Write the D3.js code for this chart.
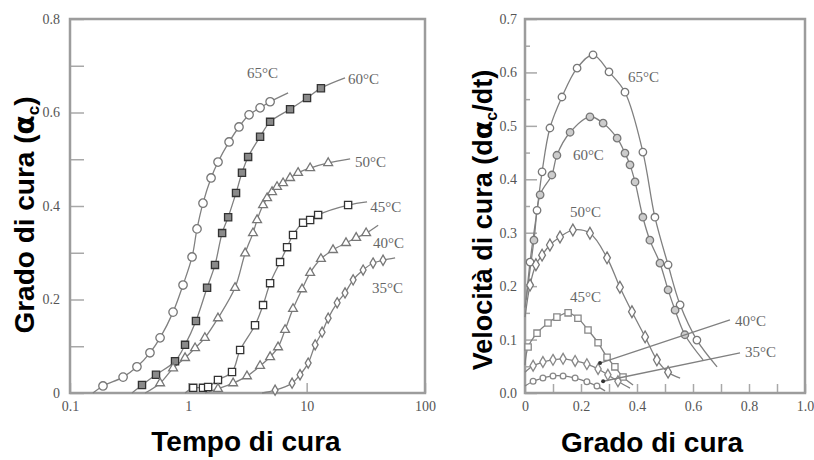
<!DOCTYPE html>
<html>
<head>
<meta charset="utf-8">
<script src="https://cdn.jsdelivr.net/npm/d3@7"></script>
<style>
  body { margin: 0; background: #fff; }
  .tick text { font-family: "Liberation Serif", "DejaVu Serif", serif; font-size: 14px; fill: #555; }
  .tick line { stroke: #a8a8a8; stroke-width: 1.5px; }
  .lbl { font-family: "Liberation Serif", "DejaVu Serif", serif; font-size: 15px; fill: #666; }
  .title { font-family: "Liberation Sans", Arial, sans-serif; font-weight: bold; font-size: 28px; fill: #000; }
</style>
</head>
<body>
<div id="chart"></div>
<script>
// left panel: cure degree vs cure time (first and last point of each list are line ends, no marker)
const tempsLeft = ["65°C", "60°C", "50°C", "45°C", "40°C", "35°C"];
const t65 = [0.156, 0.190, 0.281, 0.368, 0.474, 0.577, 0.743, 0.902, 1.075, 1.184, 1.33, 1.556, 1.782, 2.21, 2.68, 3.26, 4.04, 4.91, 6.97];
const a65 = [0, 0.015, 0.034, 0.056, 0.086, 0.118, 0.173, 0.231, 0.291, 0.351, 0.406, 0.460, 0.494, 0.537, 0.569, 0.595, 0.610, 0.623, 0.642];
const t60 = [0.334, 0.406, 0.533, 0.772, 0.938, 1.16, 1.44, 1.68, 1.93, 2.17, 2.53, 2.84, 3.20, 4.04, 4.91, 7.24, 10.07, 13.2, 21.1];
const a60 = [0, 0.017, 0.039, 0.068, 0.103, 0.154, 0.225, 0.274, 0.342, 0.376, 0.428, 0.471, 0.505, 0.548, 0.580, 0.607, 0.631, 0.652, 0.674];
const t50 = [0.431, 0.577, 0.743, 0.938, 1.14, 1.38, 1.78, 2.48, 3.02, 3.52, 3.81, 4.28, 4.63, 5.10, 5.62, 6.32, 7.24, 8.46, 10.7, 15.2, 23.3];
const a50 = [0, 0.021, 0.053, 0.075, 0.096, 0.118, 0.160, 0.225, 0.299, 0.342, 0.370, 0.402, 0.417, 0.430, 0.441, 0.449, 0.460, 0.471, 0.481, 0.492, 0.501];
const t45 = [0.938, 1.10, 1.33, 1.47, 1.78, 2.34, 2.74, 3.66, 4.28, 4.91, 5.96, 6.83, 7.67, 9.33, 10.7, 12.5, 22.4, 32.4];
const a45 = [0, 0.011, 0.011, 0.013, 0.028, 0.045, 0.092, 0.145, 0.188, 0.235, 0.280, 0.312, 0.338, 0.364, 0.370, 0.381, 0.402, 0.409];
const t40 = [1.38, 1.78, 2.39, 3.13, 4.04, 4.91, 5.73, 6.57, 7.67, 9.14, 10.7, 13.2, 16.7, 21.5, 26.2, 31.8, 40.2];
const a40 = [0, 0.009, 0.021, 0.036, 0.058, 0.077, 0.098, 0.135, 0.180, 0.222, 0.257, 0.287, 0.306, 0.321, 0.332, 0.342, 0.359];
const t35 = [4.20, 5.41, 7.53, 8.79, 10.3, 11.8, 13.5, 15.2, 18.1, 21.1, 24.7, 30.0, 36.4, 44.2, 55.9];
const a35 = [0, 0.006, 0.021, 0.039, 0.064, 0.103, 0.130, 0.160, 0.193, 0.214, 0.242, 0.263, 0.278, 0.284, 0.289];
const labelTLeft = [3.13, 22.4, 25.6, 34.4, 36.4, 35.7];
const labelALeft = [0.684, 0.672, 0.495, 0.398, 0.321, 0.225];
const xTicksLeft = [0.1, 1, 10, 100];
const yTicksLeft = [0, 0.2, 0.4, 0.6, 0.8];

// right panel: cure rate vs cure degree
const tempsRight = ["65°C", "60°C", "50°C", "45°C", "40°C", "35°C"];
const g65 = [0.004, 0.018, 0.043, 0.061, 0.089, 0.132, 0.186, 0.243, 0.300, 0.357, 0.421, 0.464, 0.511, 0.554, 0.614, 0.686];
const r65 = [0.174, 0.245, 0.342, 0.414, 0.496, 0.554, 0.608, 0.633, 0.601, 0.563, 0.451, 0.329, 0.240, 0.165, 0.099, 0.049];
const g60 = [0, 0.032, 0.054, 0.096, 0.114, 0.161, 0.232, 0.279, 0.329, 0.357, 0.375, 0.393, 0.421, 0.446, 0.482, 0.511, 0.536, 0.571, 0.636];
const r60 = [0.16, 0.286, 0.371, 0.408, 0.445, 0.488, 0.517, 0.505, 0.477, 0.449, 0.427, 0.395, 0.329, 0.286, 0.243, 0.193, 0.155, 0.109, 0.062];
const g50 = [0, 0.018, 0.039, 0.061, 0.089, 0.125, 0.171, 0.232, 0.293, 0.339, 0.382, 0.429, 0.471, 0.511, 0.554];
const r50 = [0.142, 0.202, 0.240, 0.258, 0.277, 0.292, 0.305, 0.299, 0.253, 0.198, 0.152, 0.105, 0.062, 0.039, 0.028];
const g45 = [0, 0.011, 0.043, 0.082, 0.114, 0.154, 0.189, 0.225, 0.261, 0.293, 0.321, 0.350, 0.386];
const r45 = [0.052, 0.086, 0.112, 0.131, 0.142, 0.150, 0.140, 0.118, 0.094, 0.067, 0.049, 0.030, 0.015];
const g40 = [0, 0.029, 0.064, 0.100, 0.136, 0.179, 0.221, 0.261, 0.296, 0.332, 0.375];
const r40 = [0.039, 0.051, 0.058, 0.062, 0.064, 0.060, 0.054, 0.045, 0.034, 0.022, 0.009];
const g35 = [0, 0.029, 0.064, 0.100, 0.136, 0.179, 0.221, 0.257, 0.286];
const r35 = [0.013, 0.022, 0.028, 0.032, 0.032, 0.028, 0.021, 0.013, 0.004];
const labelGRight = [0.368, 0.171, 0.161, 0.161, 0.75, 0.786];
const labelRRight = [0.591, 0.445, 0.339, 0.180, 0.135, 0.077];
// leader lines for 40°C and 35°C: [g1, r1, g2, r2]
const leader40 = [0.732, 0.137, 0.268, 0.056];
const leader35 = [0.768, 0.075, 0.279, 0.022];
const xTicksRight = [0, 0.2, 0.4, 0.6, 0.8, 1.0];
const yTicksRight = [0, 0.1, 0.2, 0.3, 0.4, 0.5, 0.6, 0.7];

const W = 814, H = 460;
const svg = d3.select("#chart").append("svg").attr("width", W).attr("height", H);

function zip(xs, ys) { return xs.map((v, i) => [v, ys[i]]); }

const seriesLeft = [
  {pts: zip(t65, a65), sym: d3.symbolCircle, size: 56, fill: "#fff", stroke: "#777"},
  {pts: zip(t60, a60), sym: d3.symbolSquare, size: 52, fill: "#8a8a8a", stroke: "#333"},
  {pts: zip(t50, a50), sym: d3.symbolTriangle, size: 34, fill: "#fff", stroke: "#777"},
  {pts: zip(t45, a45), sym: d3.symbolSquare, size: 52, fill: "#fff", stroke: "#333"},
  {pts: zip(t40, a40), sym: d3.symbolTriangle, size: 34, fill: "#fff", stroke: "#777"},
  {pts: zip(t35, a35), sym: d3.symbolDiamond, size: 30, fill: "#fff", stroke: "#777"}
];
const seriesRight = [
  {pts: zip(g65, r65), sym: d3.symbolCircle, size: 44, fill: "#fff", stroke: "#777"},
  {pts: zip(g60, r60), sym: d3.symbolCircle, size: 44, fill: "#ccc", stroke: "#777"},
  {pts: zip(g50, r50), sym: d3.symbolDiamond, size: 40, fill: "#fff", stroke: "#777"},
  {pts: zip(g45, r45), sym: d3.symbolSquare, size: 40, fill: "#fff", stroke: "#888"},
  {pts: zip(g40, r40), sym: d3.symbolDiamond, size: 34, fill: "#fff", stroke: "#888"},
  {pts: zip(g35, r35), sym: d3.symbolCircle, size: 26, fill: "#fff", stroke: "#888"}
];

function drawSeries(g, list, x, y) {
  const line = d3.line().x(d => x(d[0])).y(d => y(d[1])).curve(d3.curveCatmullRom);
  list.forEach(s => {
    g.append("path").attr("d", line(s.pts)).attr("fill", "none")
      .attr("stroke", "#808080").attr("stroke-width", 1.3);
  });
  list.forEach(s => {
    g.selectAll(null).data(s.pts.slice(1, -1)).enter().append("path")
      .attr("transform", d => `translate(${x(d[0])},${y(d[1])})`)
      .attr("d", d3.symbol().type(s.sym).size(s.size))
      .attr("fill", s.fill).attr("stroke", s.stroke).attr("stroke-width", 1.3);
  });
}

// ---------- left panel ----------
{
  const x = d3.scaleLog().domain([0.1, 100]).range([70, 425]);
  const y = d3.scaleLinear().domain([0, 0.8]).range([393, 19]);
  const g = svg.append("g");

  g.append("g").attr("transform", "translate(70,0)")
    .call(d3.axisLeft(y).tickValues([0.1, 0.3, 0.5, 0.7]).tickSize(-14).tickFormat(""))
    .call(a => a.select(".domain").remove());
  g.append("g").attr("transform", "translate(70,0)")
    .call(d3.axisLeft(y).tickValues(yTicksLeft).tickSize(-14).tickPadding(10).tickFormat(d3.format("")))
    .call(a => a.select(".domain").remove());
  g.append("g").attr("transform", "translate(0,393)")
    .call(d3.axisBottom(x).tickValues(xTicksLeft).tickSize(-10).tickPadding(8).tickFormat(d3.format("")))
    .call(a => a.select(".domain").remove());

  g.append("rect").attr("x", 70).attr("y", 19).attr("width", 355).attr("height", 374)
    .attr("fill", "none").attr("stroke", "#9c9c9c").attr("stroke-width", 2.5);

  drawSeries(g, seriesLeft, x, y);

  g.selectAll(".lbl").data(tempsLeft).enter().append("text").attr("class", "lbl")
    .attr("x", (d, i) => x(labelTLeft[i])).attr("y", (d, i) => y(labelALeft[i]))
    .attr("dy", "0.35em").text(d => d);

  g.append("text").attr("class", "title").attr("x", 246).attr("y", 451)
    .attr("text-anchor", "middle").text("Tempo di cura");
  const yt = g.append("text").attr("class", "title").attr("text-anchor", "middle")
    .attr("transform", "translate(34,215) rotate(-90)");
  yt.append("tspan").text("Grado di cura (");
  yt.append("tspan").text("α").style("font-family", "DejaVu Sans");
  yt.append("tspan").text("c").attr("font-size", 17).attr("dy", 5);
  yt.append("tspan").text(")").attr("dy", -5);
}

// ---------- right panel ----------
{
  const x = d3.scaleLinear().domain([0, 1]).range([525, 805]);
  const y = d3.scaleLinear().domain([0, 0.7]).range([393, 19]);
  const g = svg.append("g");

  g.append("g").attr("transform", "translate(525,0)")
    .call(d3.axisLeft(y).tickValues(d3.range(0.05, 0.7, 0.1)).tickSize(-5).tickFormat(""))
    .call(a => a.select(".domain").remove());
  g.append("g").attr("transform", "translate(525,0)")
    .call(d3.axisLeft(y).tickValues(yTicksRight).tickSize(-12).tickPadding(8).tickFormat(d3.format(".1f")))
    .call(a => a.select(".domain").remove());
  g.append("g").attr("transform", "translate(0,393)")
    .call(d3.axisBottom(x).tickValues(d3.range(0.1, 1, 0.2)).tickSize(-9).tickFormat(""))
    .call(a => a.select(".domain").remove());
  g.append("g").attr("transform", "translate(0,393)")
    .call(d3.axisBottom(x).tickValues(xTicksRight).tickSize(-9).tickPadding(8)
      .tickFormat(d => d === 0 ? "0" : d3.format(".1f")(d)))
    .call(a => a.select(".domain").remove());

  g.append("rect").attr("x", 525).attr("y", 19).attr("width", 280).attr("height", 374)
    .attr("fill", "none").attr("stroke", "#9c9c9c").attr("stroke-width", 2.5);

  drawSeries(g, seriesRight, x, y);

  [leader40, leader35].forEach(l => {
    g.append("line").attr("x1", x(l[0])).attr("y1", y(l[1])).attr("x2", x(l[2])).attr("y2", y(l[3]))
      .attr("stroke", "#808080").attr("stroke-width", 1.3);
    g.append("circle").attr("cx", x(l[2])).attr("cy", y(l[3])).attr("r", 2).attr("fill", "#333");
  });

  g.selectAll(".lbl").data(tempsRight).enter().append("text").attr("class", "lbl")
    .attr("x", (d, i) => x(labelGRight[i])).attr("y", (d, i) => y(labelRRight[i]))
    .attr("dy", "0.35em").text(d => d);

  g.append("text").attr("class", "title").attr("x", 652).attr("y", 452)
    .attr("text-anchor", "middle").text("Grado di cura");
  const yt = g.append("text").attr("class", "title").attr("text-anchor", "middle")
    .style("font-size", "27px")
    .attr("transform", "translate(492,220) rotate(-90)");
  yt.append("tspan").text("Velocità di cura (d");
  yt.append("tspan").text("α").style("font-family", "DejaVu Sans");
  yt.append("tspan").text("c").attr("font-size", 16).attr("dy", 5);
  yt.append("tspan").text("/dt)").attr("dy", -5);
}
</script>
</body>
</html>
